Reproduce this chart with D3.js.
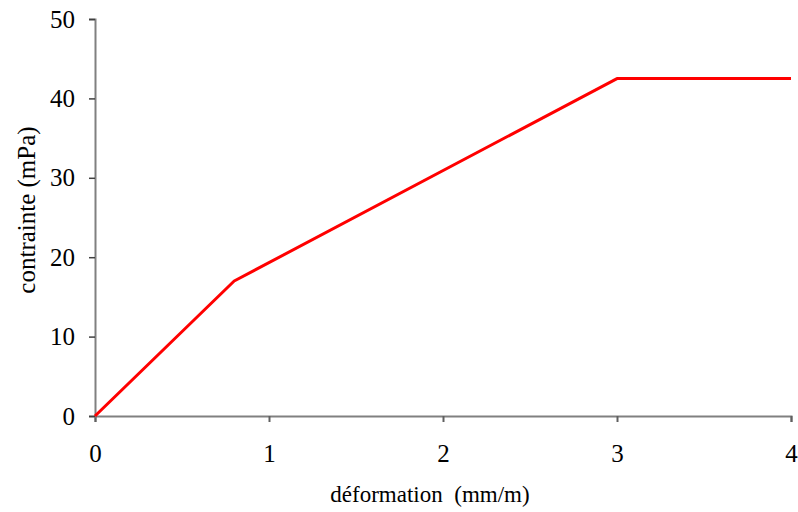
<!DOCTYPE html>
<html><head><meta charset="utf-8">
<script src="https://cdn.jsdelivr.net/npm/d3@7"></script>
<style>body{margin:0;background:#fff}svg{display:block}</style>
</head><body>
<svg id="c" width="798" height="512"></svg>
<script>
const deformation = [0, 0.8, 3, 4];
const contrainte = [0, 17, 42.5, 42.5];
const xTicks = [0, 1, 2, 3, 4];
const yTicks = [0, 10, 20, 30, 40, 50];

const svg = d3.select("#c");
const font = "'Liberation Serif','Times New Roman',serif";
const x = d3.scaleLinear().domain([0, 4]).range([95, 791]);
const y = d3.scaleLinear().domain([0, 50]).range([416, 19]);

const gx = svg.append("g").attr("transform", "translate(0,416)")
  .call(d3.axisBottom(x).tickValues(xTicks).tickSize(6).tickPadding(22).tickFormat(d3.format("d")));
const gy = svg.append("g").attr("transform", "translate(95,0)")
  .call(d3.axisLeft(y).tickValues(yTicks).tickSize(6).tickPadding(14).tickFormat(d3.format("d")));
[gx, gy].forEach(g => {
  g.attr("font-size", null).attr("font-family", null);
  g.select(".domain").attr("stroke", "#808080").attr("stroke-width", 2);
  g.selectAll(".tick text").style("font-family", font).style("font-size", "25px").attr("fill", "#000");
});
gx.selectAll(".tick line").attr("stroke", "#606060").attr("stroke-width", 2);
gy.selectAll(".tick line").attr("stroke", "#404040").attr("stroke-width", 1.5);

const line = d3.line().x((d, i) => x(deformation[i])).y(d => y(d));
svg.append("path").datum(contrainte).attr("d", line)
  .attr("fill", "none").attr("stroke", "#ff0000").attr("stroke-width", 3).attr("stroke-linejoin", "round");

svg.append("text").attr("x", 430).attr("y", 502).attr("text-anchor", "middle")
  .style("font-family", font).style("font-size", "23px").attr("fill", "#000").style("white-space", "pre")
  .text("déformation  (mm/m)");
svg.append("text").attr("transform", "translate(35,210) rotate(-90)").attr("text-anchor", "middle")
  .style("font-family", font).style("font-size", "25px").attr("fill", "#000")
  .text("contrainte (mPa)");
</script>
</body></html>
